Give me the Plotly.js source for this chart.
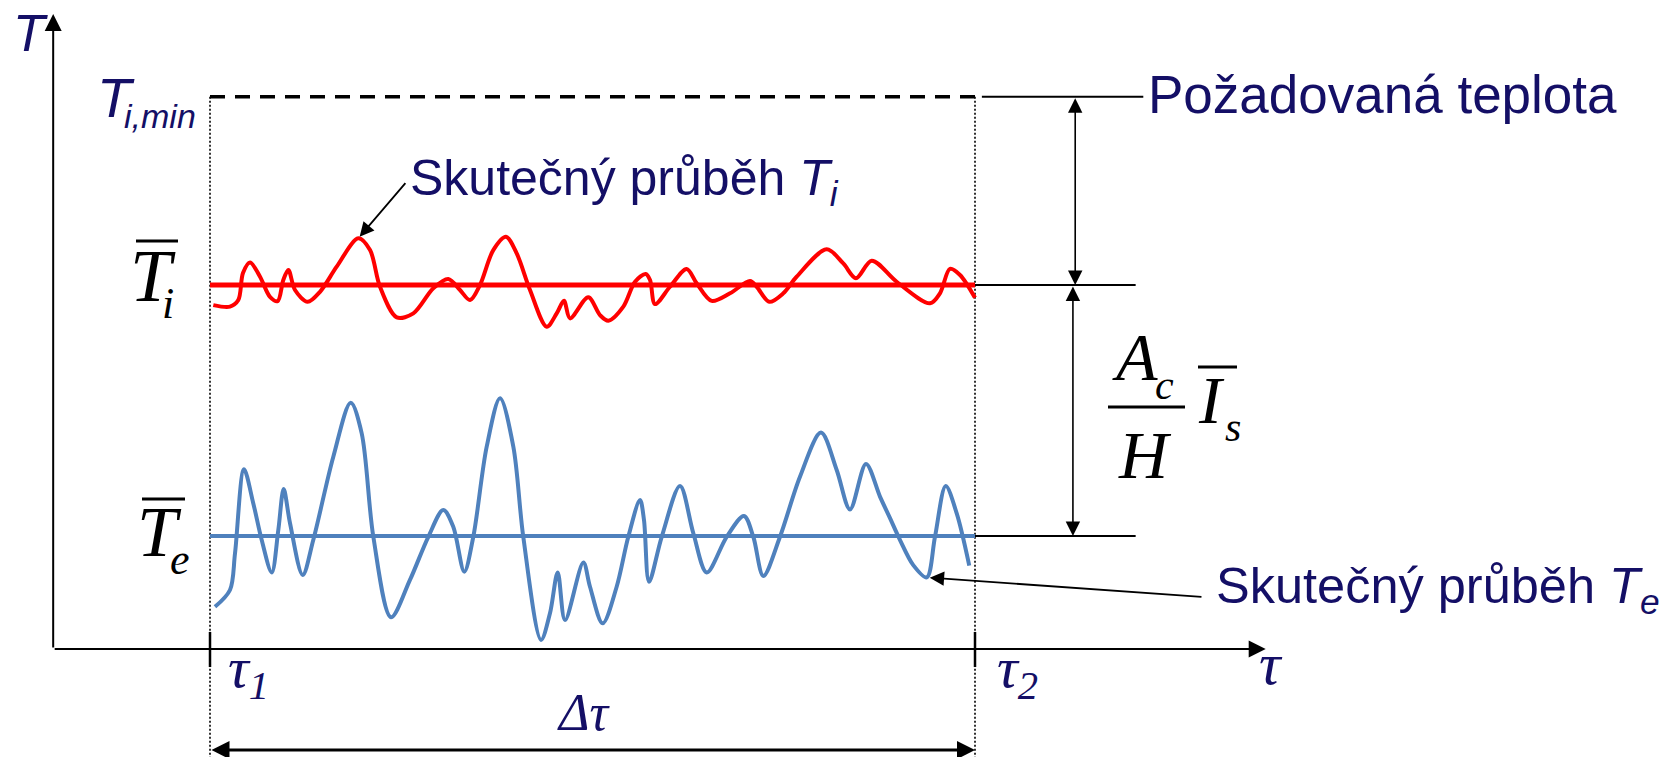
<!DOCTYPE html>
<html>
<head>
<meta charset="utf-8">
<script src="https://cdn.plot.ly/plotly-3.0.1.min.js"></script>
<style>
  html, body { margin: 0; padding: 0; background: #fff; }
  #chart { width: 1673px; height: 757px; }
</style>
</head>
<body>
<div id="chart"></div>
<script>
// Time interval (τ) and temperature levels (arbitrary units)
const TAU1 = 0, TAU2 = 100;
const TE_MEAN = 5, TI_MEAN = 15, TI_MIN = 22.5;

// Actual indoor temperature course T_i
const tauTi = [0.43, 2.61, 3.70, 4.31, 5.23, 6.54, 7.84, 8.85, 9.58, 10.24, 11.11, 12.77, 14.38, 16.56, 19.39, 20.92, 22.22, 24.41, 26.58, 29.19, 31.15, 32.68, 33.99, 35.29, 37.03, 38.69, 40.09, 41.83, 44.01, 45.32, 46.27, 47.06, 49.45, 50.98, 52.07, 54.03, 55.56, 56.95, 57.52, 58.17, 60.13, 62.31, 63.62, 65.58, 67.97, 70.59, 71.46, 73.11, 74.94, 76.69, 80.61, 82.78, 84.44, 86.50, 89.76, 94.12, 95.42, 96.73, 98.04, 100.0];
const Ti = [14.20, 14.14, 14.40, 15.48, 15.90, 15.33, 14.53, 14.36, 15.20, 15.60, 14.80, 14.33, 14.73, 15.73, 16.86, 16.39, 14.93, 13.71, 13.87, 14.87, 15.24, 14.80, 14.40, 15.00, 16.39, 16.92, 16.26, 14.80, 13.34, 13.87, 14.37, 13.67, 14.51, 13.80, 13.58, 14.14, 15.13, 15.44, 15.20, 14.24, 14.93, 15.64, 15.07, 14.37, 14.67, 15.16, 14.93, 14.33, 14.67, 15.33, 16.42, 15.86, 15.27, 15.97, 15.13, 14.27, 14.67, 15.64, 15.40, 14.49];

// Actual outdoor temperature course T_e
const tauTe = [0.65, 2.61, 3.27, 4.44, 5.66, 6.76, 8.07, 8.93, 9.63, 10.46, 12.12, 13.50, 16.12, 18.39, 19.83, 21.35, 23.66, 26.14, 28.54, 30.50, 31.80, 33.24, 34.42, 36.17, 37.91, 39.65, 40.95, 43.27, 44.44, 45.45, 46.41, 48.80, 49.67, 51.33, 53.16, 54.68, 56.21, 56.73, 57.39, 59.05, 61.44, 63.18, 64.93, 67.54, 69.80, 71.02, 72.33, 74.51, 77.12, 79.87, 81.92, 83.66, 85.75, 87.58, 88.89, 90.20, 91.93, 93.69, 94.77, 96.17, 97.61, 99.25];
const Te = [2.18, 2.85, 4.31, 7.66, 6.30, 4.84, 3.55, 5.24, 6.87, 5.51, 3.45, 4.84, 8.16, 10.31, 9.09, 4.97, 1.76, 3.25, 4.97, 6.04, 5.37, 3.58, 4.97, 8.56, 10.49, 8.56, 4.97, 0.86, 1.92, 3.55, 1.65, 3.94, 2.98, 1.52, 2.98, 4.97, 6.43, 5.64, 3.18, 4.97, 6.99, 5.11, 3.55, 4.97, 5.80, 4.97, 3.41, 4.97, 7.36, 9.12, 7.63, 6.06, 7.87, 6.57, 5.71, 4.84, 3.84, 3.35, 4.97, 6.99, 5.90, 3.82];

// Text labels
const LBL_T = 'T';
const LBL_TIMIN = ['T', 'i,min'];
const LBL_REQ = 'Požadovaná teplota';
const LBL_TI_CURVE = 'Skutečný průběh <i>T<sub>i</sub></i>';
const LBL_TE_CURVE = 'Skutečný průběh <i>T<sub>e</sub></i>';
const LBL_TAU1 = 'τ<sub>1</sub>', LBL_TAU2 = 'τ<sub>2</sub>', LBL_DTAU = 'Δτ', LBL_TAU = 'τ';

// Page & axis geometry
const W = 1673, H = 757;
const X_RANGE = [-27.451, 191.242];
const Y_RANGE = [-3.804, 26.355];
const ORIGIN_TAU = -20.5, ORIGIN_T = 0.5;
const TAU_END = 138, T_END = 25.8;
const REF_END = 121.0, REQ_START = 100.9, REQ_END = 122.0;
const DIM_X1 = 113.1, DIM_X2 = 112.8, DIM_Y = -3.53;
const TICK_LO = -0.22, TICK_HI = 1.18;

const NAVY = '#140f66';
const RED = '#ff0000';
const BLUE = '#4f81bd';
const SANS = 'Liberation Sans, Arial, sans-serif';
const SERIF = 'Liberation Serif, Times New Roman, serif';

function line(x, y, color, width, dash, extra) {
  return Object.assign({
    type: 'scatter', mode: 'lines', x: x, y: y, hoverinfo: 'skip',
    line: { color: color, width: width, dash: dash || 'solid' }
  }, extra || {});
}

const traces = [
  // required temperature (dashed) and interval borders (dotted)
  line([TAU1, TAU2], [TI_MIN, TI_MIN], '#000', 3.5, '15px,10px'),
  line([TAU1, TAU1], [TI_MIN, Y_RANGE[0]], '#000', 1.6, '2px,2px'),
  line([TAU2, TAU2], [TI_MIN, Y_RANGE[0]], '#000', 1.6, '2px,2px'),
  // reference lines to the dimension arrows
  line([REQ_START, REQ_END], [TI_MIN, TI_MIN], '#000', 2),
  line([TAU2, REF_END], [TI_MEAN, TI_MEAN], '#000', 2),
  line([TAU2, REF_END], [TE_MEAN, TE_MEAN], '#000', 2),
  // mean values
  line([TAU1, TAU2], [TI_MEAN, TI_MEAN], RED, 5),
  line([TAU1, TAU2], [TE_MEAN, TE_MEAN], BLUE, 4),
  // actual courses
  line(tauTi, Ti, RED, 4, 'solid', { line: { color: RED, width: 4, shape: 'spline', smoothing: 0.9 } }),
  line(tauTe, Te, BLUE, 4, 'solid', { line: { color: BLUE, width: 4, shape: 'spline', smoothing: 0.9 } }),
  // interval ticks on the time axis
  line([TAU1, TAU1], [TICK_LO, TICK_HI], '#000', 2.5),
  line([TAU2, TAU2], [TICK_LO, TICK_HI], '#000', 2.5)
];

function arrow(x, y, ax, ay, o) {
  return Object.assign({
    xref: 'x', yref: 'y', axref: 'x', ayref: 'y',
    x: x, y: y, ax: ax, ay: ay, text: '', showarrow: true,
    arrowhead: 2, arrowsize: 1.5, arrowwidth: 2, arrowcolor: '#000', standoff: 0
  }, o || {});
}

function label(text, x, y, font, o) {
  return Object.assign({
    xref: 'paper', yref: 'paper', x: x / W, y: 1 - y / H, text: text,
    showarrow: false, xanchor: 'center', yanchor: 'middle', borderpad: 0,
    font: font
  }, o || {});
}

const fSans = (size, color) => ({ family: SANS, size: size, color: color || NAVY });
const fSerif = (size, color) => ({ family: SERIF, size: size, color: color || '#000' });

const annotations = [
  // axes
  arrow(ORIGIN_TAU, T_END, ORIGIN_TAU, ORIGIN_T, { arrowsize: 1.7 }),
  arrow(TAU_END, ORIGIN_T, ORIGIN_TAU, ORIGIN_T, { arrowsize: 1.7 }),
  // dimension arrows
  arrow(DIM_X1, TI_MEAN, DIM_X1, TI_MIN, { arrowside: 'end+start', arrowwidth: 1.6, arrowsize: 1.8, startarrowhead: 2, startarrowsize: 1.8 }),
  arrow(DIM_X2, TE_MEAN, DIM_X2, TI_MEAN, { arrowside: 'end+start', arrowwidth: 1.6, arrowsize: 1.8, startarrowhead: 2, startarrowsize: 1.8 }),
  arrow(TAU2, DIM_Y, TAU1, DIM_Y, { arrowside: 'end+start', arrowwidth: 3, arrowsize: 1.2, startarrowhead: 2, startarrowsize: 1.2 }),
  // pointers to the actual courses
  arrow(tauTi[14], Ti[14], 25.71, 19.12, { arrowwidth: 1.8, arrowsize: 1.6, standoff: 2 }),
  arrow(tauTe[57], Te[57], 129.8, 2.57, { arrowwidth: 1.8, arrowsize: 1.6, standoff: 3 }),

  // texts
  label('<i>' + LBL_T + '</i>', 30, 33, fSans(52)),
  label('<i>' + LBL_TIMIN[0] + '</i>', 116, 97, fSans(56)),
  label('<i>' + LBL_TIMIN[1] + '</i>', 197, 116, fSans(34), { xanchor: 'right' }),
  label(LBL_REQ, 1147, 94, fSans(53), { xanchor: 'left' }),
  label(LBL_TI_CURVE, 409, 181, fSans(50), { xanchor: 'left' }),
  label(LBL_TE_CURVE, 1215, 589, fSans(50.5), { xanchor: 'left' }),

  // mean temperature symbols
  label('<i>T</i>', 153, 276, fSerif(74)),
  label('<i>i</i>', 168, 303, fSerif(44)),
  label('<i>T</i>', 159, 532, fSerif(72)),
  label('<i>e</i>', 180, 559, fSerif(44)),

  // A_c / H · I_s
  label('<i>A</i>', 1135, 357, fSerif(68)),
  label('<i>c</i>', 1164, 385, fSerif(42)),
  label('<i>H</i>', 1145, 455, fSerif(68)),
  label('<i>I</i>', 1211, 400, fSerif(68)),
  label('<i>s</i>', 1233, 427, fSerif(42)),

  // time labels
  label('<i>' + LBL_TAU1 + '</i>', 227, 671, fSerif(58, NAVY), { xanchor: 'left' }),
  label('<i>' + LBL_TAU2 + '</i>', 996, 671, fSerif(58, NAVY), { xanchor: 'left' }),
  label('<i>' + LBL_DTAU + '</i>', 584, 712, fSerif(52, NAVY)),
  label('<i>' + LBL_TAU + '</i>', 1271, 664, fSerif(60, NAVY))
];

function bar(x0, x1, y, w) {
  return { type: 'line', xref: 'paper', yref: 'paper', x0: x0 / W, x1: x1 / W, y0: 1 - y / H, y1: 1 - y / H,
           line: { color: '#000', width: w || 3 } };
}

const shapes = [
  bar(136, 178, 241),   // overline T_i
  bar(142, 185, 499),   // overline T_e
  bar(1108, 1185, 407), // fraction bar
  bar(1198, 1237, 367)  // overline I_s
];

const layout = {
  width: W, height: H,
  margin: { l: 0, r: 0, t: 0, b: 0 },
  paper_bgcolor: '#fff', plot_bgcolor: '#fff',
  showlegend: false,
  xaxis: { range: X_RANGE, visible: false, fixedrange: true },
  yaxis: { range: Y_RANGE, visible: false, fixedrange: true },
  annotations: annotations,
  shapes: shapes
};

Plotly.newPlot('chart', traces, layout, { staticPlot: true, displayModeBar: false });
</script>
</body>
</html>
